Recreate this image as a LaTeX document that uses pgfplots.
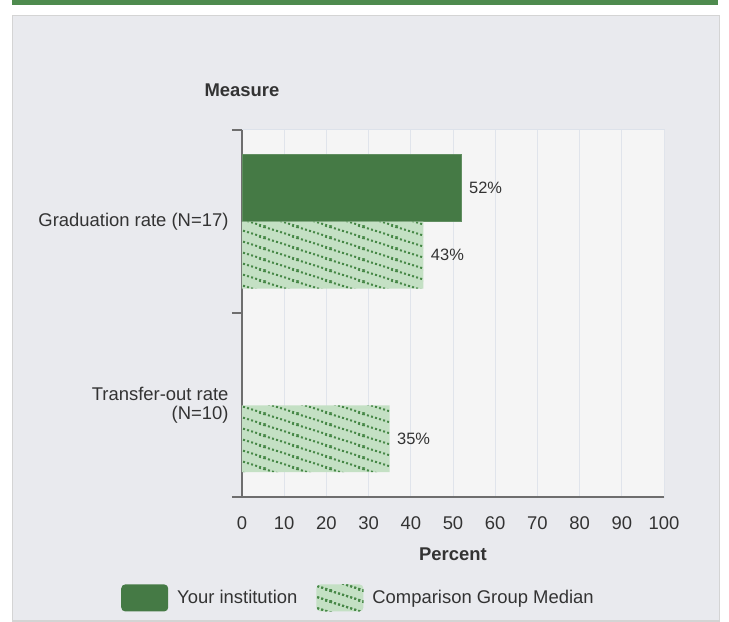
\documentclass[border=0pt]{standalone}
\usepackage{fontspec}
\setmainfont{Liberation Sans}
\usepackage{pgfplots}
\pgfplotsset{compat=1.18}
\usetikzlibrary{patterns.meta}
\definecolor{instgreen}{RGB}{69,122,69}
\definecolor{hatchfill}{RGB}{196,224,196}
\definecolor{dotgreen}{RGB}{70,135,70}
\definecolor{topgreen}{RGB}{78,139,78}
\definecolor{panelbg}{HTML}{E9EAEE}
\definecolor{panelborder}{HTML}{D4D4D4}
\definecolor{plotbg}{HTML}{F5F5F5}
\definecolor{plotborder}{HTML}{DDE2EA}
\definecolor{gridc}{HTML}{E0E4EB}
\definecolor{axiscolor}{HTML}{6E6E6E}
\definecolor{textc}{HTML}{333333}
\tikzdeclarepattern{
  name=dotlines,
  type=uncolored,
  bounding box={(0bp,0bp) and (33bp,11bp)},
  tile size={(33bp,11bp)},
  code={
    \draw[line width=2.2bp, dash pattern=on 2bp off 2.349bp] (-33bp,22bp) -- (66bp,-11bp);
    \draw[line width=2.2bp, dash pattern=on 2bp off 2.349bp] (-33bp,33bp) -- (66bp,0bp);
    \draw[line width=2.2bp, dash pattern=on 2bp off 2.349bp] (-33bp,11bp) -- (66bp,-22bp);
  }
}
\newcommand{\bigfont}{\fontsize{18.5}{19.5}\selectfont}
\newcommand{\valfont}{\fontsize{16.5}{18}\selectfont}
\begin{document}
\begin{tikzpicture}
\path[use as bounding box] (-242bp,-125bp) rectangle (487bp,497bp);
\fill[white] (-242bp,-125bp) rectangle (487bp,497bp);
\fill[topgreen] (-230bp,492bp) rectangle (476bp,497bp);
\draw[panelborder, fill=panelbg, line width=1.5bp] (-229.25bp,-123.75bp) rectangle (477.25bp,481.25bp);
\begin{axis}[
  at={(0,0)}, anchor=south west,
  scale only axis, width=422bp, height=367bp,
  xmin=0, xmax=100, ymin=0, ymax=2,
  clip=false,
  xtick={0,10,...,100},
  ytick={0,1,2}, yticklabels={,,},
  extra y ticks={0.5,1.5},
  extra y tick labels={{Transfer-out rate\\(N=10)},{Graduation rate (N=17)}},
  extra y tick style={major tick length=0pt, yticklabel style={xshift=-10bp}},
  yticklabel style={align=right},
  axis x line*=bottom, axis y line*=left,
  axis line style={axiscolor, line width=2bp, -},
  tick align=outside,
  ytick style={axiscolor, line width=2bp},
  major tick length=10bp,
  xtick style={draw=none},
  xmajorgrids, grid style={gridc, line width=1bp},
  axis background/.style={fill=plotbg, draw=plotborder, line width=1bp},
  tick label style={font=\bigfont, text=textc},
  /pgf/number format/assume math mode=true,
  xticklabel style={yshift=-6bp},
  xlabel={Percent},
  xlabel style={font=\bfseries\bigfont, text=textc, at={(axis description cs:0.5,0)}, anchor=center, yshift=-57bp},
  legend style={at={(0.276,-0.275)}, anchor=center, draw=none, fill=none, font=\bigfont, text=textc,
    legend columns=2,
    /tikz/every odd column/.append style={column sep=7bp},
    /tikz/every even column/.append style={column sep=17bp}},
]
\addplot[xbar, bar width=0.365, bar shift=0pt, fill=instgreen, draw=instgreen!85!white, line width=0.8bp,
  nodes near coords={\pgfmathprintnumber{\pgfplotspointmeta}\%}, point meta=x,
  nodes near coords style={font=\valfont, text=textc, anchor=west, xshift=4bp},
  legend image code/.code={\draw[fill=instgreen, draw=none, rounded corners=4bp] (0bp,-13.5bp) rectangle (47bp,13.5bp);}]
  coordinates {(52,1.6825)};
\addlegendentry{Your institution}
\addplot[xbar, bar width=0.365, bar shift=0pt, fill=hatchfill, draw=none,
  postaction={pattern=dotlines, pattern color=dotgreen},
  nodes near coords={\pgfmathprintnumber{\pgfplotspointmeta}\%}, point meta=x,
  nodes near coords style={font=\valfont, text=textc, anchor=west, xshift=4bp},
  legend image code/.code={\draw[fill=hatchfill, draw=none, rounded corners=4bp, postaction={pattern=dotlines, pattern color=dotgreen}] (0bp,-13.5bp) rectangle (47bp,13.5bp);}]
  coordinates {(43,1.3175) (35,0.3175)};
\addlegendentry{Comparison Group Median}
\node[font=\bfseries\bigfont, text=textc, yshift=40bp] at (rel axis cs:0,1) {Measure};
\end{axis}
\end{tikzpicture}
\end{document}
